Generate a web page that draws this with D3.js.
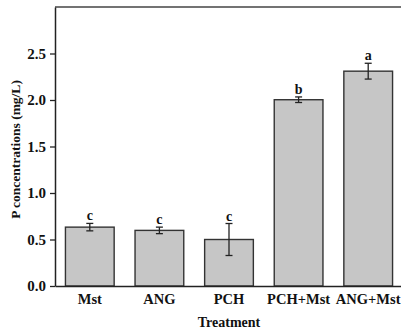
<!DOCTYPE html>
<html lang="en">
<head>
<meta charset="UTF-8">
<title>P concentrations</title>
<script src="https://d3js.org/d3.v7.min.js"></script>
<style>
  body { margin: 0; background: #fff; }
  text { font-family: "Liberation Serif", "Times New Roman", serif; font-weight: bold; fill: #111; }
</style>
</head>
<body>
<script>
// data
const treatments = ["Mst", "ANG", "PCH", "PCH+Mst", "ANG+Mst"];
const means = [0.633, 0.598, 0.50, 2.003, 2.31];
const errors = [0.04, 0.035, 0.172, 0.03, 0.085];
const letters = ["c", "c", "c", "b", "a"];
const yTicks = [0.0, 0.5, 1.0, 1.5, 2.0, 2.5];

const width = 401, height = 333;
const margin = {top: 7, right: -2, bottom: 47, left: 55};

const svg = d3.select("body").append("svg")
  .attr("width", width)
  .attr("height", height);

const x = d3.scaleBand()
  .domain(treatments)
  .range([margin.left, width - margin.right])
  .paddingInner(0.3)
  .paddingOuter(0.15);

const y = d3.scaleLinear()
  .domain([0, 3])
  .range([height - margin.bottom, margin.top]);

// top frame line
svg.append("line")
  .attr("x1", margin.left).attr("x2", width)
  .attr("y1", margin.top).attr("y2", margin.top)
  .attr("stroke", "#444").attr("stroke-width", 1.5);

// bars
svg.selectAll("rect.bar")
  .data(treatments)
  .enter().append("rect")
  .attr("class", "bar")
  .attr("x", d => x(d))
  .attr("width", x.bandwidth())
  .attr("y", (d, i) => y(means[i]))
  .attr("height", (d, i) => y(0) - y(means[i]))
  .attr("fill", "#c6c6c6")
  .attr("stroke", "#333")
  .attr("stroke-width", 1.4);

// error bars
const eb = svg.selectAll("g.err")
  .data(treatments)
  .enter().append("g")
  .attr("class", "err")
  .attr("stroke", "#222")
  .attr("stroke-width", 1.3);

eb.append("line")
  .attr("x1", d => x(d) + x.bandwidth() / 2)
  .attr("x2", d => x(d) + x.bandwidth() / 2)
  .attr("y1", (d, i) => y(means[i] + errors[i]))
  .attr("y2", (d, i) => y(means[i] - errors[i]));
eb.append("line")
  .attr("x1", d => x(d) + x.bandwidth() / 2 - 3.5)
  .attr("x2", d => x(d) + x.bandwidth() / 2 + 3.5)
  .attr("y1", (d, i) => y(means[i] + errors[i]))
  .attr("y2", (d, i) => y(means[i] + errors[i]));
eb.append("line")
  .attr("x1", d => x(d) + x.bandwidth() / 2 - 3.5)
  .attr("x2", d => x(d) + x.bandwidth() / 2 + 3.5)
  .attr("y1", (d, i) => y(means[i] - errors[i]))
  .attr("y2", (d, i) => y(means[i] - errors[i]));

// significance letters
svg.selectAll("text.letter")
  .data(treatments)
  .enter().append("text")
  .attr("class", "letter")
  .attr("x", d => x(d) + x.bandwidth() / 2)
  .attr("y", (d, i) => y(means[i] + errors[i]) - 3)
  .attr("text-anchor", "middle")
  .attr("font-size", 14)
  .text((d, i) => letters[i]);

// axes
const yAxis = svg.append("g")
  .attr("transform", `translate(${margin.left},0)`)
  .call(d3.axisLeft(y).tickValues(yTicks).tickFormat(d3.format(".1f")).tickSize(5).tickSizeOuter(0));
yAxis.selectAll("text").attr("font-size", 15).attr("dx", "-1");

const xAxis = svg.append("g")
  .attr("transform", `translate(0,${y(0)})`)
  .call(d3.axisBottom(x).tickSize(0).tickSizeOuter(0));
xAxis.selectAll("text").attr("font-size", 14.5).attr("dy", "1.0em");

svg.selectAll(".domain").attr("stroke", "#222").attr("stroke-width", 1.5);
svg.selectAll(".tick line").attr("stroke", "#222").attr("stroke-width", 1.3);

// titles
svg.append("text")
  .attr("x", 229)
  .attr("y", 327)
  .attr("text-anchor", "middle")
  .attr("font-size", 14)
  .text("Treatment");

svg.append("text")
  .attr("transform", `translate(20,${(margin.top + y(0)) / 2 + 3}) rotate(-90)`)
  .attr("text-anchor", "middle")
  .attr("font-size", 13.5)
  .text("P concentrations (mg/L)");
</script>
</body>
</html>
